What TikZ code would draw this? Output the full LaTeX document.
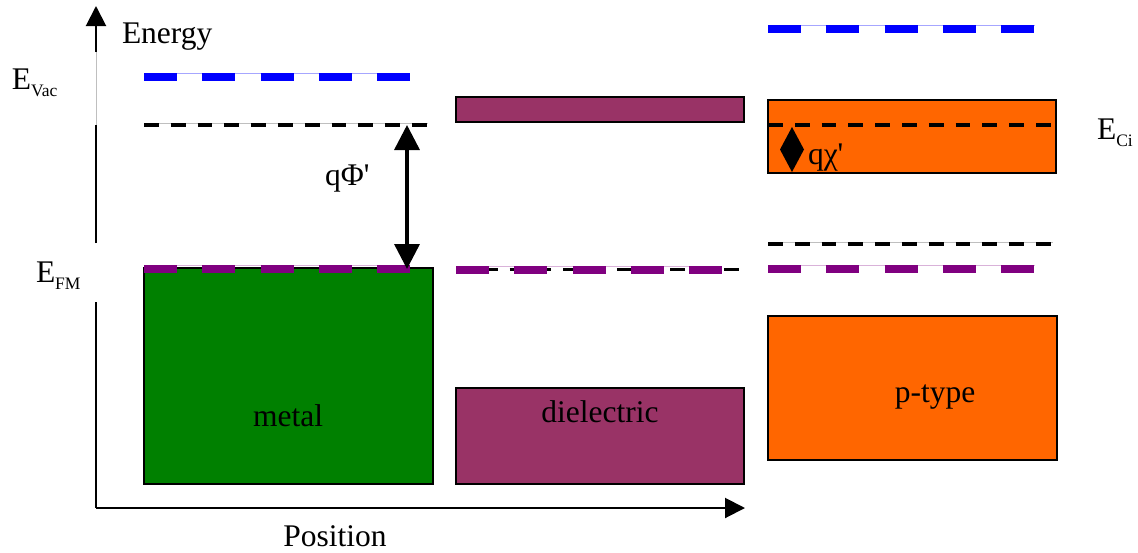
\documentclass[tikz,border=0pt]{standalone}
\usepackage{fontspec}
\IfFontExistsTF{LiberationSerif-Regular.ttf}{\setmainfont{LiberationSerif-Regular.ttf}\newfontfamily\plainserif{LiberationSerif-Regular.ttf}}{\setmainfont{Liberation Serif}\newfontfamily\plainserif{Liberation Serif}}
\usetikzlibrary{arrows.meta}
\definecolor{metalgreen}{HTML}{008000}
\definecolor{dielcol}{HTML}{993366}
\definecolor{semicol}{HTML}{FF6600}
\definecolor{vacblue}{HTML}{0000FF}
\definecolor{fermipurple}{HTML}{800080}
\newcommand{\mysubtxt}[1]{\raisebox{-7pt}{\fontsize{17.5}{20}\selectfont #1}}
\newcommand{\myquote}{{\plainserif\char"0027}}
\tikzset{
  axisline/.style={line width=2pt, black},
  axisarrow/.style={axisline, -{Triangle[length=20pt,width=20pt]}},
  faintline/.style={line width=0.8pt, black!25},
  band/.style={draw=black, line width=1.3pt, inner sep=0pt, outer sep=0pt, rectangle},
  leveldash/.style={line width=8pt, dash pattern=on 33pt off 25.3pt},
  levelfaint/.style={line width=1pt},
  blackdash/.style={line width=3.8pt, black, dash pattern=on 14.7pt off 12.1pt},
  blackfaint/.style={line width=0.8pt, black!25},
  bigarrow/.style={line width=3.5pt, {Triangle[length=25pt,width=25pt]}-{Triangle[length=25pt,width=25pt]}},
  lbl/.style={inner sep=0pt, outer sep=0pt, anchor=base west},
  clbl/.style={inner sep=0pt, outer sep=0pt, anchor=base},
}
\begin{document}
\begin{tikzpicture}[x=1pt, y=-1pt, font=\rmfamily\fontsize{31.5}{36}\selectfont]
\useasboundingbox (0,0) rectangle (1138,552);

% axes
\coordinate (O) at (96,508);
\coordinate (ytop) at (96,6);
\coordinate (xend) at (745,508);
\coordinate (gapA) at (96,302);
\coordinate (gapB) at (96,243);
\coordinate (gapC) at (96,125);
\coordinate (gapD) at (96,52);
\draw[axisline] (gapA) -- (O);
\draw[axisarrow] (O) -- (xend);
\draw[axisline] (gapB) -- (gapC);
\draw[faintline] (gapC) -- (gapD);
\draw[axisarrow] (gapD) -- (ytop);

% bands
\node[band, fill=metalgreen, minimum width=289pt, minimum height=216pt] (metal) at (288.5,376) {};
\node[band, fill=dielcol, minimum width=288pt, minimum height=25pt] (dieltop) at (600,109.5) {};
\node[band, fill=dielcol, minimum width=288pt, minimum height=96pt] (dielbot) at (600,436) {};
\node[band, fill=semicol, minimum width=288pt, minimum height=73pt] (ptop) at (912,136.5) {};
\node[band, fill=semicol, minimum width=289pt, minimum height=144pt] (pbot) at (912.5,388) {};

% vacuum levels
\coordinate (vm1) at (144,77); \coordinate (vm2) at (410,77);
\coordinate (vp1) at (768,29); \coordinate (vp2) at (1035,29);
\draw[levelfaint, vacblue!35] (144,73.5) -- (410,73.5);
\draw[levelfaint, vacblue!35] (768,25.5) -- (1035,25.5);
\draw[leveldash, vacblue] (vm1) -- (vm2);
\draw[leveldash, vacblue] (vp1) -- (vp2);

% black dashed levels
\coordinate (bm1) at (144,125); \coordinate (bm2) at (428,125);
\coordinate (bp1) at (768,125); \coordinate (bp2) at (1053,125);
\coordinate (bq1) at (768,244); \coordinate (bq2) at (1053,244);
\coordinate (bd1) at (456,269.5); \coordinate (bd2) at (740,269.5);
\draw[blackfaint] (144,123.5) -- (428,123.5);
\draw[blackfaint] (768,242.5) -- (1053,242.5);
\draw[blackdash] (bm1) -- (bm2);
\draw[blackdash] (bp1) -- (bp2);
\draw[blackdash] (bq1) -- (bq2);
\draw[blackdash] (bd1) -- (bd2);

% Fermi levels
\coordinate (fm1) at (144,269); \coordinate (fm2) at (410,269);
\coordinate (fd1) at (456,270); \coordinate (fd2) at (722,270);
\coordinate (fp1) at (768,269); \coordinate (fp2) at (1035,269);
\draw[levelfaint, fermipurple!30] (144,265.5) -- (410,265.5);
\draw[levelfaint, fermipurple!30] (456,266.5) -- (722,266.5);
\draw[levelfaint, fermipurple!30] (768,265.5) -- (1035,265.5);
\draw[leveldash, fermipurple] (fm1) -- (fm2);
\draw[leveldash, fermipurple] (fd1) -- (fd2);
\draw[leveldash, fermipurple] (fp1) -- (fp2);

% arrows
\coordinate (phiTop) at (407,125);
\coordinate (phiBot) at (407,269);
\draw[bigarrow] (phiTop) -- (phiBot);
\coordinate (chiTop) at (792,127);
\coordinate (chiBot) at (792,172);
\fill[black] (chiTop) -- (804,149.5) -- (chiBot) -- (780,149.5) -- cycle;

% labels
\node[lbl] (energy) at (122,43) {Energy};
\node[clbl] (position) at (335,546) {Position};
\node[lbl] (evac) at (12,89) {E\mysubtxt{Vac}};
\node[lbl] (efm) at (36,282) {E\mysubtxt{FM}};
\node[lbl] (eci) at (1097,139) {E\mysubtxt{Ci}};
\node[lbl] (qphi) at (325,185) {qΦ\myquote};
\node[lbl] (qchi) at (808,164) {qχ\myquote};
\node[clbl] (metallbl) at (288,426) {metal};
\node[clbl] (diellbl) at (600,422) {dielectric};
\node[clbl] (plbl) at (935,402) {p-type};
\end{tikzpicture}
\end{document}
